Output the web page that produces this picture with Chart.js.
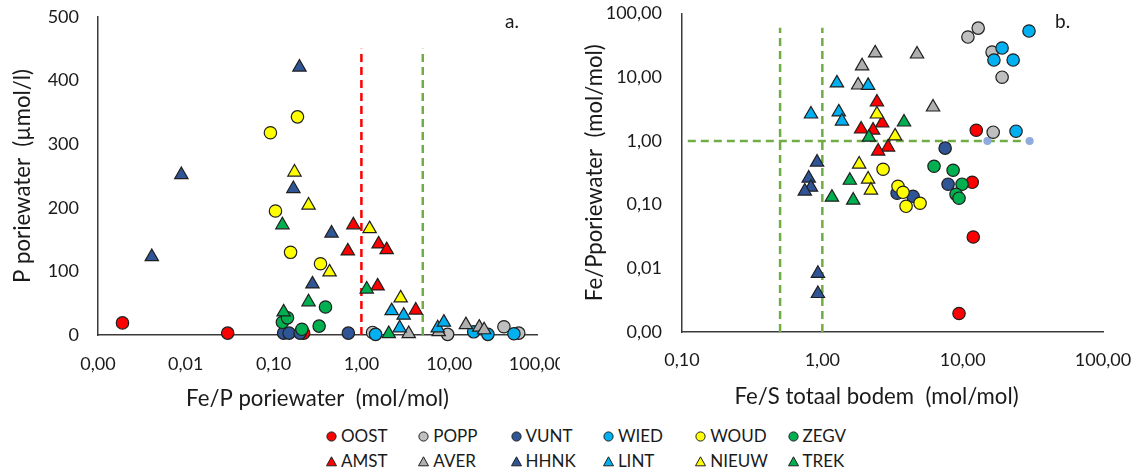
<!DOCTYPE html>
<html lang="nl">
<head>
<meta charset="UTF-8" />
<title>Fe/P poriewater en Fe/S totaal bodem</title>
<script src="https://cdn.jsdelivr.net/npm/chart.js"></script>
<style>
  body { margin: 0; background: #fff; font-family: Lato, "Open Sans", sans-serif; }
  #pagina { position: relative; width: 1145px; height: 472px; overflow: hidden; }
  .grafiek { position: absolute; top: 0; height: 410px; }
  #grafiekA { left: 0; width: 560px; }
  #grafiekB { left: 560px; width: 585px; }
  .paneel { position: absolute; top: 9px; font-size: 19px; color: #1a1a1a; }
  .leg { position: absolute; font-size: 17px; color: #1a1a1a; white-space: nowrap; line-height: 20px; }
  .leg svg { position: absolute; left: -15px; top: 5px; }
</style>
</head>
<body>

<div id="pagina">
  <div class="grafiek" id="grafiekA"><canvas id="canvasA"></canvas></div>
  <div class="grafiek" id="grafiekB"><canvas id="canvasB"></canvas></div>
  <div class="paneel" style="left:505px">a.</div>
  <div class="paneel" style="left:1055px">b.</div>
  <div id="legenda"></div>
</div>

<script>
  // meetpunten per locatie
  const reeksen = ['OOST', 'POPP', 'VUNT', 'WIED', 'WOUD', 'ZEGV', 'AMST', 'AVER', 'HHNK', 'LINT', 'NIEUW', 'TREK'];
  const kleuren = ['#FF0000', '#BFBFBF', '#2F5597', '#00B0F0', '#FFFF00', '#00B050',
                   '#FF0000', '#AFAFAF', '#2F5597', '#00B0F0', '#FFFF00', '#00B050'];
  const vormen = ['circle', 'circle', 'circle', 'circle', 'circle', 'circle',
                  'triangle', 'triangle', 'triangle', 'triangle', 'triangle', 'triangle'];

  // a. [Fe/P poriewater, P poriewater (µmol/l)]
  const oostA  = [[0.0019, 19], [0.030, 3], [0.22, 3]];
  const poppA  = [[1.34, 4], [9.6, 1], [42, 13], [62, 3]];
  const vuntA  = [[0.13, 3], [0.15, 3], [0.20, 3], [0.71, 3]];
  const wiedA  = [[1.45, 1], [19, 5], [27.6, 1], [54.6, 2]];
  const woudA  = [[0.105, 195], [0.092, 318], [0.187, 343], [0.156, 130], [0.342, 112]];
  const zegvA  = [[0.39, 44], [0.33, 14], [0.21, 9], [0.126, 20], [0.144, 27]];
  const amstA  = [[0.81, 173], [0.70, 132], [1.57, 143], [1.94, 134], [1.53, 77], [4.16, 39]];
  const averA  = [[3.46, 2], [15.5, 16], [22, 12], [25, 8], [7.6, 5]];
  const hhnkA  = [[0.197, 421], [0.0089, 252], [0.0041, 123], [0.168, 230], [0.457, 160], [0.277, 80]];
  const lintA  = [[2.21, 38], [3.03, 31], [2.73, 11], [7.4, 11], [8.7, 20]];
  const nieuwA = [[0.173, 256], [0.25, 204], [0.434, 99], [1.24, 167], [2.80, 58]];
  const trekA  = [[0.126, 173], [0.25, 52], [0.13, 36], [1.15, 72], [2.05, 2]];

  // b. [Fe/S totaal bodem, Fe/P poriewater]
  const oostB  = [[12.5, 1.47], [11.7, 0.224], [11.9, 0.031], [9.42, 0.00195]];
  const poppB  = [[10.9, 42.7], [12.9, 59], [16.2, 24.8], [19.1, 10], [16.5, 1.37]];
  const vuntB  = [[7.5, 0.77], [7.87, 0.209], [3.41, 0.151], [4.43, 0.135]];
  const wiedB  = [[29.7, 53], [19.1, 28.7], [16.7, 18.6], [22.9, 18.6], [24, 1.42]];
  const woudB  = [[2.71, 0.359], [3.46, 0.194], [3.76, 0.156], [3.95, 0.094], [4.97, 0.105]];
  const zegvB  = [[6.25, 0.40], [8.55, 0.346], [9.9, 0.209], [8.97, 0.145], [9.42, 0.126]];
  const amstB  = [[2.45, 4.06], [2.67, 1.9], [1.89, 1.53], [2.30, 1.47], [2.94, 0.796], [2.5, 0.689]];
  const averB  = [[2.38, 23.9], [4.73, 23], [1.92, 15], [1.8, 7.5], [6.15, 3.39]];
  const hhnkB  = [[0.917, 0.462], [0.80, 0.259], [0.83, 0.187], [0.75, 0.162], [0.93, 0.0083], [0.93, 0.004]];
  const lintB  = [[2.12, 7.4], [1.27, 8.1], [0.83, 2.63], [1.31, 2.83], [1.38, 2.04]];
  const nieuwB = [[2.45, 2.63], [3.3, 1.19], [1.83, 0.43], [2.12, 0.25], [2.22, 0.168]];
  const trekB  = [[3.82, 1.97], [2.15, 1.14], [1.57, 0.24], [1.17, 0.13], [1.66, 0.117]];

  const puntenA = [oostA, poppA, vuntA, wiedA, woudA, zegvA, amstA, averA, hhnkA, lintA, nieuwA, trekA];
  const puntenB = [oostB, poppB, vuntB, wiedB, woudB, zegvB, amstB, averB, hhnkB, lintB, nieuwB, trekB];

  // as-indeling
  const ticksXA = [0.001, 0.01, 0.1, 1, 10, 100];
  const ticksXB = [0.1, 1, 10, 100];
  const ticksYB = [0.001, 0.01, 0.1, 1, 10, 100];

  // grenswaarden (stippellijnen)
  const grensFePA = [1, 5];          // rood, groen
  const grensFeSB = [0.5, 1];
  const grensFePB = 1;
  const lijnpuntenB = [0.11, 15, 30];

  const tekstKleur = '#1a1a1a';
  const asKleur = '#3a3a3a';
  const komma = v => v.toFixed(2).replace('.', ',');

  // astitels zo groot dat "Fe/P poriewater (mol/mol)" ~263 px breed wordt
  const meet = document.createElement('canvas').getContext('2d');
  meet.font = '20px Lato';
  const titelGrootte = Math.round(20 * 263 / meet.measureText('Fe/P poriewater  (mol/mol)').width * 10) / 10;

  function puntReeksen(punten) {
    return reeksen.map((naam, i) => ({
      label: naam,
      data: punten[i].map(p => ({ x: p[0], y: p[1] })),
      pointStyle: vormen[i],
      pointRadius: vormen[i] === 'circle' ? 6.2 : 7.7,
      pointBackgroundColor: kleuren[i],
      pointBorderColor: '#1f1f1f',
      pointBorderWidth: 1.2,
      showLine: false,
      clip: false,
      order: reeksen.length - i
    }));
  }

  function stippel(kleur, data, extra) {
    return Object.assign({
      data: data,
      showLine: true,
      borderColor: kleur,
      borderWidth: 2.5,
      borderDash: [8, 5],
      pointRadius: 0,
      clip: false,
      order: 100
    }, extra || {});
  }

  function vasteBreedte(w) {
    return scale => { scale.width = w; scale.paddingTop = 0; scale.paddingBottom = 0; };
  }
  function vasteHoogte(h) {
    return scale => { scale.height = h; scale.paddingLeft = 0; scale.paddingRight = 0; };
  }
  function decades(lijst) {
    return scale => { scale.ticks = lijst.map(v => ({ value: v })); };
  }

  const asFont = { family: 'Lato', size: 18 };
  const titelFont = { family: 'Lato', size: titelGrootte, lineHeight: 1 };
  const halfTitel = titelGrootte / 2;
  const geenRaster = { display: false, drawTicks: false };

  // x-titel van b. staat iets links van het midden van het plotvlak
  const titelB = {
    id: 'titelB',
    afterDraw(chart) {
      const ctx = chart.ctx;
      ctx.save();
      ctx.font = titelGrootte + 'px Lato';
      ctx.fillStyle = tekstKleur;
      ctx.textAlign = 'center';
      ctx.textBaseline = 'middle';
      const a = chart.chartArea;
      ctx.fillText('Fe/S totaal bodem  (mol/mol)', (a.left + a.right) / 2 - 16, chart.height - 13);
      ctx.restore();
    }
  };

  const basisOpties = {
    responsive: true,
    maintainAspectRatio: false,
    animation: false,
    events: [],
    plugins: { legend: { display: false }, tooltip: { enabled: false } }
  };

  // a. Fe/P poriewater tegen P poriewater
  new Chart(document.getElementById('canvasA'), {
    type: 'scatter',
    data: {
      datasets: [
        stippel('#FF0000', [{ x: grensFePA[0], y: 0 }, { x: grensFePA[0], y: 450 }]),
        stippel('#70AD47', [{ x: grensFePA[1], y: 0 }, { x: grensFePA[1], y: 450 }])
      ].concat(puntReeksen(puntenA))
    },
    options: Object.assign({}, basisOpties, {
      layout: { padding: { top: 17, right: 23, left: 0, bottom: 0 } },
      scales: {
        x: {
          type: 'logarithmic', min: 0.001, max: 100,
          afterBuildTicks: decades(ticksXA),
          afterFit: vasteHoogte(75),
          grid: geenRaster,
          border: { color: asKleur, width: 1.5 },
          ticks: { callback: komma, font: asFont, color: tekstKleur, padding: 18, autoSkip: false, maxRotation: 0 },
          title: { display: true, text: 'Fe/P poriewater  (mol/mol)', font: titelFont, color: tekstKleur,
                   padding: { top: 13 - halfTitel, bottom: 0 } }
        },
        y: {
          type: 'linear', min: 0, max: 500,
          afterFit: vasteBreedte(98),
          grid: geenRaster,
          border: { color: asKleur, width: 1.5 },
          ticks: { stepSize: 100, font: asFont, color: tekstKleur, padding: 19 },
          title: { display: true, text: 'P poriewater  (µmol/l)', font: titelFont, color: tekstKleur,
                   padding: { top: 23 - halfTitel, bottom: 0 } }
        }
      }
    })
  });

  // b. Fe/S totaal bodem tegen Fe/P poriewater
  new Chart(document.getElementById('canvasB'), {
    type: 'scatter',
    data: {
      datasets: [
        stippel('#70AD47', [{ x: grensFeSB[0], y: 0.001 }, { x: grensFeSB[0], y: 60 }]),
        stippel('#70AD47', [{ x: grensFeSB[1], y: 0.001 }, { x: grensFeSB[1], y: 60 }]),
        stippel('#70AD47', lijnpuntenB.map(x => ({ x: x, y: grensFePB })), {
          pointRadius: [0, 4, 4],
          pointBackgroundColor: '#8FAADC',
          pointBorderWidth: 0
        })
      ].concat(puntReeksen(puntenB))
    },
    options: Object.assign({}, basisOpties, {
      layout: { padding: { top: 13.5, right: 42, left: 0, bottom: 0 } },
      scales: {
        x: {
          type: 'logarithmic', min: 0.1, max: 100,
          afterBuildTicks: decades(ticksXB),
          afterFit: vasteHoogte(78),
          grid: geenRaster,
          border: { color: asKleur, width: 1.5 },
          ticks: { callback: komma, font: asFont, color: tekstKleur, padding: 17, autoSkip: false, maxRotation: 0 }
        },
        y: {
          type: 'logarithmic', min: 0.001, max: 100,
          afterBuildTicks: decades(ticksYB),
          afterFit: vasteBreedte(122),
          grid: geenRaster,
          border: { color: asKleur, width: 1.5 },
          ticks: { callback: komma, font: asFont, color: tekstKleur, padding: 20, autoSkip: false },
          title: { display: true, text: 'Fe/Pporiewater  (mol/mol)', font: titelFont, color: tekstKleur,
                   padding: { top: 35 - halfTitel, bottom: 0 } }
        }
      }
    }),
    plugins: [titelB]
  });

  // gezamenlijke legenda, twee rijen van zes
  const legenda = document.getElementById('legenda');
  reeksen.forEach((naam, i) => {
    const kolom = i % 6, rij = Math.floor(i / 6);
    const el = document.createElement('div');
    el.className = 'leg';
    el.style.left = (341 + kolom * 92.3) + 'px';
    el.style.top = (426 + rij * 25) + 'px';
    const vorm = vormen[i] === 'circle'
      ? '<circle cx="5.5" cy="5.5" r="4.6" fill="' + kleuren[i] + '" stroke="#1f1f1f" stroke-width="1"/>'
      : '<polygon points="5.5,0.8 10.5,9.8 0.5,9.8" fill="' + kleuren[i] + '" stroke="#1f1f1f" stroke-width="1"/>';
    el.innerHTML = '<svg width="11" height="11" viewBox="0 0 11 11">' + vorm + '</svg>' + naam;
    legenda.appendChild(el);
  });
</script>

</body>
</html>
